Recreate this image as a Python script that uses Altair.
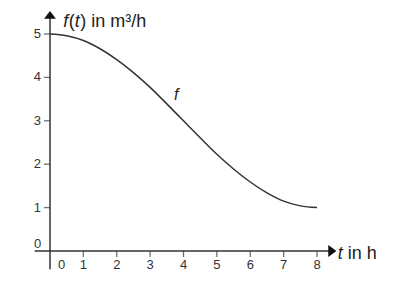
import altair as alt
import pandas as pd

# Curve values
t_vals = [0, 0.5, 1, 1.5, 2, 2.5, 3, 3.5, 4, 4.5, 5, 5.5, 6, 6.5, 7, 7.5, 8]
f_vals = [5.0, 4.96, 4.85, 4.66, 4.41, 4.11, 3.77, 3.39, 3.0, 2.61, 2.23, 1.89, 1.59, 1.34, 1.15, 1.04, 1.0]

x_ticks = [1, 2, 3, 4, 5, 6, 7, 8]
x_labels = ["1", "2", "3", "4", "5", "6", "7", "8"]
y_ticks = [1, 2, 3, 4, 5]
y_labels = ["1", "2", "3", "4", "5"]

FONT = "Liberation Sans"
INK = "#333333"

curve_df = pd.DataFrame({"t": t_vals, "f": f_vals})
xt_df = pd.DataFrame({"t": x_ticks, "lab": x_labels, "f": [0] * len(x_ticks)})
yt_df = pd.DataFrame({"f": y_ticks, "lab": y_labels, "t": [0] * len(y_ticks)})
origin_df = pd.DataFrame({"t": [0], "f": [0], "lab": ["0"]})
xaxis_df = pd.DataFrame({"t": [-0.46], "t2": [8.4], "f": [0]})
yaxis_df = pd.DataFrame({"t": [0], "f": [-0.42], "f2": [5.4]})
up_df = pd.DataFrame({"t": [0], "f": [5.44]})
right_df = pd.DataFrame({"t": [8.46], "f": [0]})
flab_df = pd.DataFrame({"t": [3.78], "f": [3.6], "lab": ["f"]})
one_df = pd.DataFrame({"a": [0]})

xs = alt.Scale(domain=[0, 8], nice=False, zero=False)
ys = alt.Scale(domain=[0, 5], nice=False, zero=False)


def X(f):
    return alt.X(f, type="quantitative", scale=xs, axis=None)


def Y(f):
    return alt.Y(f, type="quantitative", scale=ys, axis=None)


curve = alt.Chart(curve_df).mark_line(color=INK, strokeWidth=1.5, interpolate="monotone").encode(
    x=X("t"), y=Y("f")
)

x_axis = alt.Chart(xaxis_df).mark_rule(color=INK, strokeWidth=1.5).encode(
    x=X("t"), x2="t2", y=Y("f")
)
y_axis = alt.Chart(yaxis_df).mark_rule(color=INK, strokeWidth=1.5).encode(
    x=X("t"), y=Y("f"), y2="f2"
)
arrow_up = alt.Chart(up_df).mark_point(
    shape="M-1,0.67L1,0.67L0,-0.67Z", filled=True, color="#111111", size=140, opacity=1
).encode(x=X("t"), y=Y("f"))
arrow_right = alt.Chart(right_df).mark_point(
    shape="M-0.67,-1L0.67,0L-0.67,1Z", filled=True, color="#111111", size=150, opacity=1
).encode(x=X("t"), y=Y("f"))

xt = alt.Chart(xt_df).mark_tick(orient="vertical", size=6, thickness=1.3, yOffset=3, color=INK).encode(
    x=X("t"), y=Y("f")
)
yt = alt.Chart(yt_df).mark_tick(orient="horizontal", size=6, thickness=1.3, xOffset=-3, color=INK).encode(
    x=X("t"), y=Y("f")
)
xl = alt.Chart(xt_df).mark_text(font=FONT, fontSize=13, color=INK, baseline="middle", dy=13.5).encode(
    x=X("t"), y=Y("f"), text="lab:N"
)
yl = alt.Chart(yt_df).mark_text(font=FONT, fontSize=13, color=INK, baseline="middle", align="right", dx=-9).encode(
    x=X("t"), y=Y("f"), text="lab:N"
)
x0 = alt.Chart(origin_df).mark_text(font=FONT, fontSize=13, color=INK, baseline="middle", dx=11.5, dy=13.5).encode(
    x=X("t"), y=Y("f"), text="lab:N"
)
y0 = alt.Chart(origin_df).mark_text(font=FONT, fontSize=13, color=INK, baseline="middle", dx=-12.5, dy=-7.5).encode(
    x=X("t"), y=Y("f"), text="lab:N"
)


def txt(s, px, py, italic=False, size=18):
    return alt.Chart(one_df).mark_text(
        font=FONT, fontSize=size, color="#222222", align="left", baseline="alphabetic",
        fontStyle="italic" if italic else "normal", text=s
    ).encode(x=alt.value(px), y=alt.value(py))


title_parts = [
    txt("f", 13.3, -7.5, True),
    txt("(", 18.8, -7.5),
    txt("t", 24.8, -7.5, True),
    txt(") in m³/h", 30.3, -7.5),
    txt("t", 287.7, 224.5, True),
    txt("in h", 297.7, 224.5),
]

f_label = alt.Chart(flab_df).mark_text(
    font=FONT, fontSize=16, fontStyle="italic", color="#222222", baseline="middle"
).encode(x=X("t"), y=Y("f"), text="lab:N")

chart = alt.layer(
    x_axis, y_axis, arrow_up, arrow_right, xt, yt, xl, yl, x0, y0, curve, f_label, *title_parts
).properties(
    width=267, height=217,
    autosize=alt.AutoSizeParams(type="none"),
    padding={"left": 50, "top": 34, "right": 83, "bottom": 41},
    background="white",
).configure_view(stroke=None)

chart.save("out.html", embed_options={"renderer": "svg", "actions": False})
